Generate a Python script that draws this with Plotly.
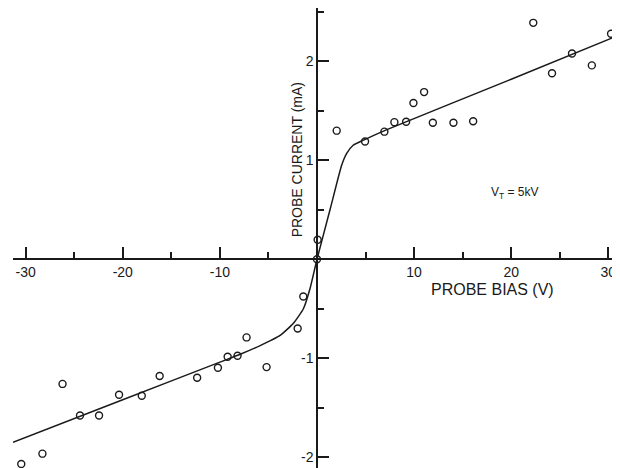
import plotly.graph_objects as go

# Measured points: probe bias (V) and probe current (mA)
bias_pts = [-30.45, -28.27, -26.2, -24.4, -22.44, -20.38, -18.04, -16.2, -12.34, -10.2,
            -9.2, -8.18, -7.25, -5.19, -1.99, -1.41, 0.0, 0.07, 2.03, 4.95, 6.94, 7.97,
            9.18, 9.93, 11.03, 11.93, 14.05, 16.08, 22.27, 24.2, 26.26, 28.3, 30.28]
current_pts = [-2.07, -1.965, -1.26, -1.58, -1.58, -1.37, -1.38, -1.18, -1.197, -1.096,
               -0.985, -0.975, -0.79, -1.09, -0.70, -0.376, 0.0, 0.197, 1.30, 1.19, 1.29, 1.386,
               1.39, 1.58, 1.69, 1.38, 1.38, 1.395, 2.39, 1.88, 2.08, 1.96, 2.28]

# Fitted curve
fit_bias = [-31.3, -20, -10, -7.9, -5.9, -3.8, -2.45, -1.4, -0.7, 0, 1.34, 2.54, 3.06,
            3.75, 4.8, 7.2, 20, 31.2]
fit_current = [-1.85, -1.42, -1.04, -0.96, -0.875, -0.77, -0.65, -0.50, -0.29, 0, 0.5, 0.95,
               1.07, 1.155, 1.205, 1.31, 1.82, 2.27]

x_ticks = [-30, -20, -10, 10, 20, 30]
x_ticklabels = ["-30", "-20", "-10", "10", "20", "30"]
x_minor = [-25, -15, -5, 5, 15, 25]
y_ticks = [-2, -1, 1, 2]
y_ticklabels = ["-2", "-1", "1", "2"]
y_minor = [-1.5, -0.5, 0.5, 1.5, 2.5]

x_range = [-31.3, 31.2]
y_range = [-2.11, 2.54]

# the page body has an 8px default margin, so the figure is sized to fit inside
W, H = 612, 460
ml, mr, mt, mb = 5, 0, 0, 0

ink = "#1a1a1a"
fam = "Liberation Sans, Arial, sans-serif"
font = dict(family=fam, size=14, color=ink)

fig = go.Figure()
fig.add_trace(go.Scatter(x=fit_bias, y=fit_current, mode="lines",
                         line=dict(color=ink, width=1.5, shape="spline", smoothing=0.5),
                         hoverinfo="skip", showlegend=False))
fig.add_trace(go.Scatter(x=bias_pts, y=current_pts, mode="markers",
                         marker=dict(symbol="circle-open", size=7, color=ink,
                                     line=dict(width=1.4, color=ink)),
                         showlegend=False))

x0_frac = (0 - x_range[0]) / (x_range[1] - x_range[0])
y0_frac = (0 - y_range[0]) / (y_range[1] - y_range[0])

fig.update_layout(
    width=W, height=H,
    margin=dict(l=ml, r=mr, t=mt, b=mb),
    paper_bgcolor="white", plot_bgcolor="white",
    font=font,
    xaxis=dict(range=x_range, domain=[0, 1], anchor="free", position=y0_frac,
               showline=True, linecolor=ink, linewidth=1.5,
               showgrid=False, zeroline=False,
               tickmode="array", tickvals=x_ticks, ticktext=x_ticklabels,
               ticks="inside", ticklen=12, tickwidth=1.5, tickcolor=ink,
               minor=dict(tickmode="array", tickvals=x_minor, ticks="inside",
                          ticklen=7, tickwidth=1.5, tickcolor=ink, showgrid=False),
               tickfont=font, automargin=False),
    yaxis=dict(range=y_range, domain=[0, 1], anchor="free", position=x0_frac,
               showline=True, linecolor=ink, linewidth=1.5,
               showgrid=False, zeroline=False,
               tickmode="array", tickvals=y_ticks, ticktext=y_ticklabels,
               ticks="inside", ticklen=11, tickwidth=1.5, tickcolor=ink,
               minor=dict(tickmode="array", tickvals=y_minor, ticks="inside",
                          ticklen=6, tickwidth=1.5, tickcolor=ink, showgrid=False),
               tickfont=font, automargin=False),
)

fig.add_annotation(x=18.1, y=-0.31, xref="x", yref="y", text="PROBE BIAS (V)",
                   showarrow=False, font=dict(family=fam, size=16, color=ink))
fig.add_annotation(x=-2.06, y=1.01, xref="x", yref="y", text="PROBE CURRENT (mA)",
                   textangle=-90, showarrow=False,
                   font=dict(family=fam, size=14, color=ink))
fig.add_annotation(x=20.4, y=0.67, xref="x", yref="y", text="V<sub>T</sub> = 5kV",
                   showarrow=False, font=dict(family=fam, size=12, color=ink))

fig.write_html("out.html")
